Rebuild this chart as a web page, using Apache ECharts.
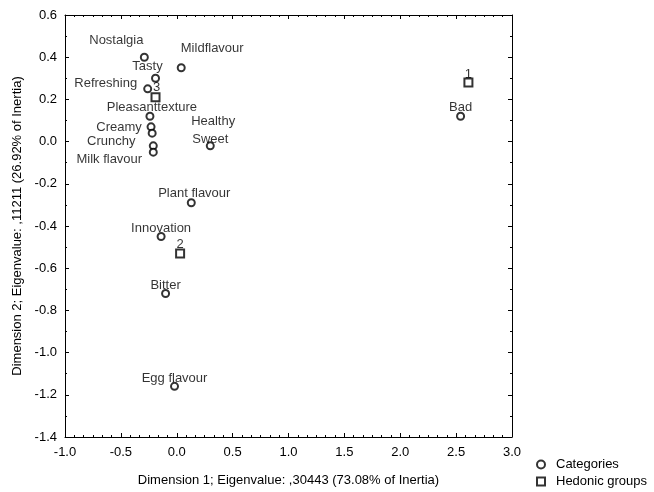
<!DOCTYPE html>
<html>
<head>
<meta charset="utf-8">
<script src="https://cdn.jsdelivr.net/npm/echarts@6/dist/echarts.min.js"></script>
<style>
html,body{margin:0;padding:0;background:#fff;}
#chart{width:654px;height:492px;}
</style>
</head>
<body>
<div id="chart"></div>
<script>
// Data
var categoryNames = ["Nostalgia","Mildflavour","Tasty","Refreshing","Pleasanttexture","Creamy","Healthy","Crunchy","Milk flavour","Sweet","Plant flavour","Innovation","Bitter","Egg flavour","Bad"];
var categoryDim1  = [-0.29, 0.04, -0.19, -0.26, -0.24, -0.23, -0.22, -0.21, -0.21, 0.30, 0.13, -0.14, -0.10, -0.02, 2.54];
var categoryDim2  = [0.40, 0.35, 0.30, 0.25, 0.12, 0.07, 0.04, -0.02, -0.05, -0.02, -0.29, -0.45, -0.72, -1.16, 0.12];

var groupNames = ["1","2","3"];
var groupDim1  = [2.61, 0.03, -0.19];
var groupDim2  = [0.28, -0.53, 0.21];

var xTitle = "Dimension 1; Eigenvalue: ,30443 (73.08% of Inertia)";
var yTitle = "Dimension 2; Eigenvalue: ,11211 (26.92% of Inertia)";

// Label placement (pixel offsets of label centre from point), styling only
var labelOffsets = {
  "Nostalgia":[-28,-17], "Mildflavour":[31,-19], "Tasty":[-8,-12], "Refreshing":[-42,-5],
  "Pleasanttexture":[2,-9], "Creamy":[-32,1], "Healthy":[61,-12], "Crunchy":[-42,-4],
  "Milk flavour":[-44,7], "Sweet":[0,-6], "Plant flavour":[3,-9], "Innovation":[0,-8],
  "Bitter":[0,-8], "Egg flavour":[0,-8], "Bad":[0,-9],
  "1":[0,-8], "2":[0,-9], "3":[1,-10]
};

var FONT = "Liberation Sans, Arial, sans-serif";
var TXT = "#000";
var FS = 13;

function buildData(names, xs, ys) {
  return names.map(function (n, i) {
    var off = labelOffsets[n] || [0, -9];
    return {
      name: n,
      value: [xs[i], ys[i]],
      label: { show: true, position: "inside", offset: off, formatter: n }
    };
  });
}

var labelStyle = { color: TXT, fontFamily: FONT, fontSize: FS };

var axisCommon = {
  type: "value",
  axisLine: { show: true, onZero: false, lineStyle: { color: "#000", width: 1 } },
  splitLine: { show: false },
  axisTick: { show: true, inside: true, length: 4, lineStyle: { color: "#000" } },
  minorTick: { show: true, length: 2, lineStyle: { color: "#000" } }
};

var chart = echarts.init(document.getElementById("chart"), null, { renderer: "canvas" });
chart.setOption({
  backgroundColor: "#fff",
  animation: false,
  textStyle: { fontFamily: FONT },
  grid: { left: 65, right: 142, top: 15, bottom: 55, containLabel: false },
  xAxis: [
    Object.assign({}, axisCommon, {
      position: "bottom", min: -1, max: 3, interval: 0.5,
      minorTick: Object.assign({}, axisCommon.minorTick, { splitNumber: 6 }),
      axisLabel: { color: TXT, fontSize: FS, fontFamily: FONT, margin: 9,
        formatter: function (v) { return v.toFixed(1); } },
      name: xTitle, nameLocation: "middle", nameGap: 37,
      nameTextStyle: { color: TXT, fontSize: FS, fontFamily: FONT }
    }),
    Object.assign({}, axisCommon, {
      position: "top", min: -1, max: 3, interval: 0.5,
      minorTick: Object.assign({}, axisCommon.minorTick, { splitNumber: 6 }),
      axisLabel: { show: false }
    })
  ],
  yAxis: [
    Object.assign({}, axisCommon, {
      position: "left", min: -1.4, max: 0.6, interval: 0.2,
      minorTick: Object.assign({}, axisCommon.minorTick, { splitNumber: 2 }),
      axisLabel: { color: TXT, fontSize: FS, fontFamily: FONT, margin: 8,
        formatter: function (v) { return v.toFixed(1); } },
      name: yTitle, nameLocation: "middle", nameGap: 41, nameRotate: 90,
      nameTextStyle: { color: TXT, fontSize: FS, fontFamily: FONT }
    }),
    Object.assign({}, axisCommon, {
      position: "right", min: -1.4, max: 0.6, interval: 0.2,
      minorTick: Object.assign({}, axisCommon.minorTick, { splitNumber: 2 }),
      axisLabel: { show: false }
    })
  ],
  legend: {
    orient: "vertical", left: 531, top: 453, height: 40,
    itemWidth: 8, itemHeight: 8, itemGap: 4,
    textStyle: { color: TXT, fontSize: FS, fontFamily: FONT, padding: [0, 0, 0, 6] },
    data: ["Categories", "Hedonic groups"]
  },
  series: [
    {
      name: "Categories", type: "scatter", symbol: "emptyCircle", symbolSize: 7,
      itemStyle: { color: "#000", borderColor: "#222", borderWidth: 0.8 },
      label: labelStyle,
      data: buildData(categoryNames, categoryDim1, categoryDim2)
    },
    {
      name: "Hedonic groups", type: "scatter", symbol: "emptyRect", symbolSize: 8,
      itemStyle: { color: "#000", borderColor: "#222", borderWidth: 0.8 },
      label: labelStyle,
      data: buildData(groupNames, groupDim1, groupDim2)
    }
  ]
});
</script>
</body>
</html>
